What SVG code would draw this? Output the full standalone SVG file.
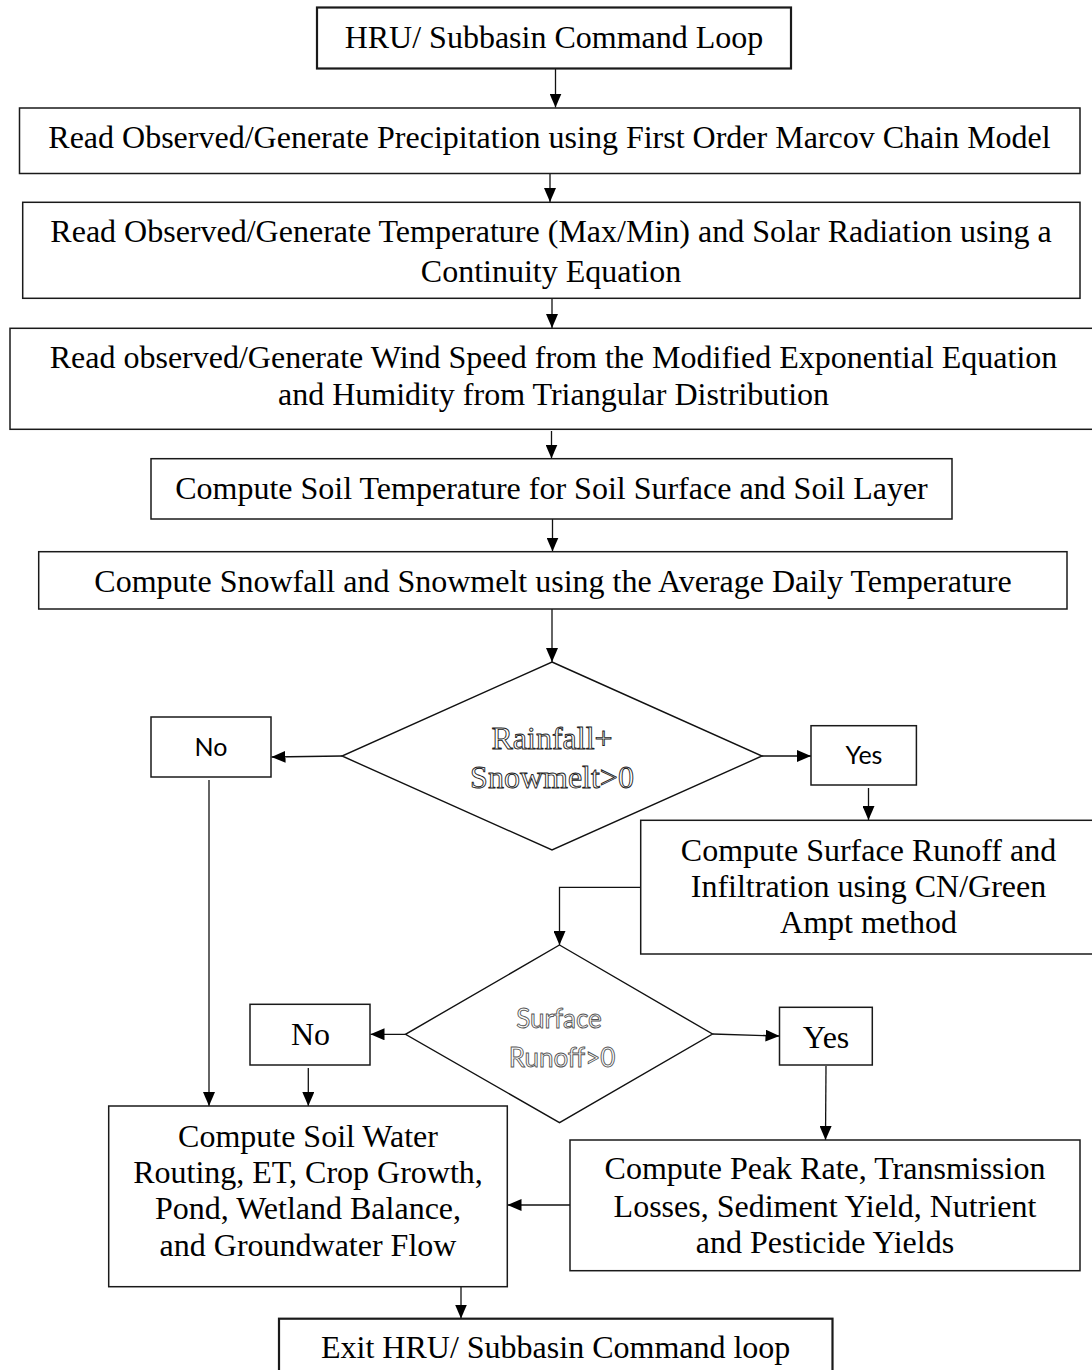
<svg xmlns="http://www.w3.org/2000/svg" width="1092" height="1370" viewBox="0 0 1092 1370">
  <style>
    .box { fill: #ffffff; stroke: #1a1a1a; stroke-width: 1.5; }
    .thick { stroke-width: 2.2; }
    .dia { fill: #ffffff; stroke: #111111; stroke-width: 1.4; }
    .t { font-family: "Liberation Serif", "Times New Roman", serif; font-size: 32px; fill: #000000; text-anchor: middle; }
    .s { font-family: Lato, "Open Sans", sans-serif; font-size: 25px; fill: #000000; text-anchor: middle; }
    .outS { font-family: "Liberation Serif", "Times New Roman", serif; font-size: 32px; fill: #ffffff; stroke: #222222; stroke-width: 0.9; text-anchor: middle; }
    .outC { font-family: Lato, "Open Sans", sans-serif; font-size: 26px; fill: #ffffff; stroke: #555555; stroke-width: 0.9; text-anchor: middle; }
    .conn { fill: none; stroke: #111111; stroke-width: 1.3; }
  </style>
  <defs>
    <marker id="arr" markerUnits="userSpaceOnUse" markerWidth="14" markerHeight="12" refX="14" refY="6" orient="auto">
      <path d="M0,0 L14,6 L0,12 z" fill="#000000"/>
    </marker>
  </defs>
  <rect width="1092" height="1370" fill="#ffffff"/>

  <g id="connectors">
    <line class="conn" x1="555.5" y1="68" x2="555.5" y2="107.5" marker-end="url(#arr)"/>
    <line class="conn" x1="550" y1="173.5" x2="550" y2="202" marker-end="url(#arr)"/>
    <line class="conn" x1="552" y1="298.5" x2="552" y2="328" marker-end="url(#arr)"/>
    <line class="conn" x1="551.5" y1="431" x2="551.5" y2="458.5" marker-end="url(#arr)"/>
    <line class="conn" x1="552.5" y1="519" x2="552.5" y2="551.5" marker-end="url(#arr)"/>
    <line class="conn" x1="552" y1="609" x2="552" y2="662" marker-end="url(#arr)"/>
    <line class="conn" x1="342" y1="756" x2="271.5" y2="757" marker-end="url(#arr)"/>
    <line class="conn" x1="762" y1="756" x2="811" y2="756" marker-end="url(#arr)"/>
    <line class="conn" x1="868.5" y1="788" x2="868.5" y2="820" marker-end="url(#arr)"/>
    <polyline class="conn" points="640.7,887.3 559.5,887.3 559.5,945" marker-end="url(#arr)"/>
    <line class="conn" x1="405.5" y1="1034.3" x2="370.5" y2="1034.3" marker-end="url(#arr)"/>
    <line class="conn" x1="712.5" y1="1034" x2="779.5" y2="1036" marker-end="url(#arr)"/>
    <line class="conn" x1="826" y1="1066" x2="825.5" y2="1140" marker-end="url(#arr)"/>
    <line class="conn" x1="308.3" y1="1068" x2="308.3" y2="1106" marker-end="url(#arr)"/>
    <line class="conn" x1="209" y1="780" x2="209" y2="1106" marker-end="url(#arr)"/>
    <line class="conn" x1="570" y1="1205" x2="507.5" y2="1205" marker-end="url(#arr)"/>
    <line class="conn" x1="461" y1="1287" x2="461" y2="1318.5" marker-end="url(#arr)"/>
  </g>

  <g id="node-start">
    <rect class="box thick" x="317" y="7.5" width="474" height="61"/>
    <text class="t" x="554" y="48.3">HRU/ Subbasin Command Loop</text>
  </g>
  <g id="node-precip">
    <rect class="box" x="19.5" y="108" width="1060.5" height="65.5"/>
    <text class="t" x="549.5" y="148.3">Read Observed/Generate Precipitation using First Order Marcov Chain Model</text>
  </g>
  <g id="node-temp">
    <rect class="box" x="22.7" y="202.3" width="1057.3" height="96"/>
    <text class="t" x="551" y="242.3">Read Observed/Generate Temperature (Max/Min) and Solar Radiation using a</text>
    <text class="t" x="551" y="281.7">Continuity Equation</text>
  </g>
  <g id="node-wind">
    <rect class="box" x="10" y="328.3" width="1088" height="101"/>
    <text class="t" x="553.5" y="368.3">Read observed/Generate Wind Speed from the Modified Exponential Equation</text>
    <text class="t" x="553.5" y="405">and Humidity from Triangular Distribution</text>
  </g>
  <g id="node-soiltemp">
    <rect class="box" x="151" y="458.7" width="801" height="60.3"/>
    <text class="t" x="551.5" y="499">Compute Soil Temperature for Soil Surface and Soil Layer</text>
  </g>
  <g id="node-snow">
    <rect class="box" x="38.7" y="551.7" width="1028.3" height="57.3"/>
    <text class="t" x="553" y="592.3">Compute Snowfall and Snowmelt using the Average Daily Temperature</text>
  </g>
  <g id="node-decision1">
    <polygon class="dia" points="552,662 762,756 552,850 342,756"/>
    <text class="outS" x="552" y="749.3">Rainfall+</text>
    <text class="outS" x="552" y="788.3">Snowmelt&gt;0</text>
  </g>
  <g id="node-no1">
    <rect class="box" x="151" y="717" width="120" height="60"/>
    <text class="s" x="211" y="756">No</text>
  </g>
  <g id="node-yes1">
    <rect class="box" x="811" y="725.7" width="105.4" height="59.3"/>
    <text class="s" x="864" y="764">Yes</text>
  </g>
  <g id="node-runoff">
    <rect class="box" x="640.7" y="820.3" width="456" height="133.7"/>
    <text class="t" x="868.5" y="860.7">Compute Surface Runoff and</text>
    <text class="t" x="868.5" y="896.7">Infiltration using CN/Green</text>
    <text class="t" x="868.5" y="933.3">Ampt method</text>
  </g>
  <g id="node-decision2">
    <polygon class="dia" points="559.5,945 712.5,1034 559.5,1122.7 405.5,1034.3"/>
    <text class="outC" x="559" y="1028">Surface</text>
    <text class="outC" x="562" y="1066.7">Runoff&gt;0</text>
  </g>
  <g id="node-no2">
    <rect class="box" x="250" y="1004.3" width="120" height="60.7"/>
    <text class="t" x="310.5" y="1045">No</text>
  </g>
  <g id="node-yes2">
    <rect class="box" x="779.5" y="1007.3" width="92.8" height="57.7"/>
    <text class="t" x="826" y="1047.7">Yes</text>
  </g>
  <g id="node-soilwater">
    <rect class="box" x="108.7" y="1106" width="398.6" height="180.7"/>
    <text class="t" x="308" y="1146.7">Compute Soil Water</text>
    <text class="t" x="308" y="1183.3">Routing, ET, Crop Growth,</text>
    <text class="t" x="308" y="1219.3">Pond, Wetland Balance,</text>
    <text class="t" x="308" y="1256">and Groundwater Flow</text>
  </g>
  <g id="node-peak">
    <rect class="box" x="570" y="1140" width="510" height="130.7"/>
    <text class="t" x="825" y="1179.3">Compute Peak Rate, Transmission</text>
    <text class="t" x="825" y="1216.7">Losses, Sediment Yield, Nutrient</text>
    <text class="t" x="825" y="1253.3">and Pesticide Yields</text>
  </g>
  <g id="node-exit">
    <rect class="box thick" x="279" y="1318.7" width="553.5" height="60"/>
    <text class="t" x="555.7" y="1358">Exit HRU/ Subbasin Command loop</text>
  </g>
</svg>
